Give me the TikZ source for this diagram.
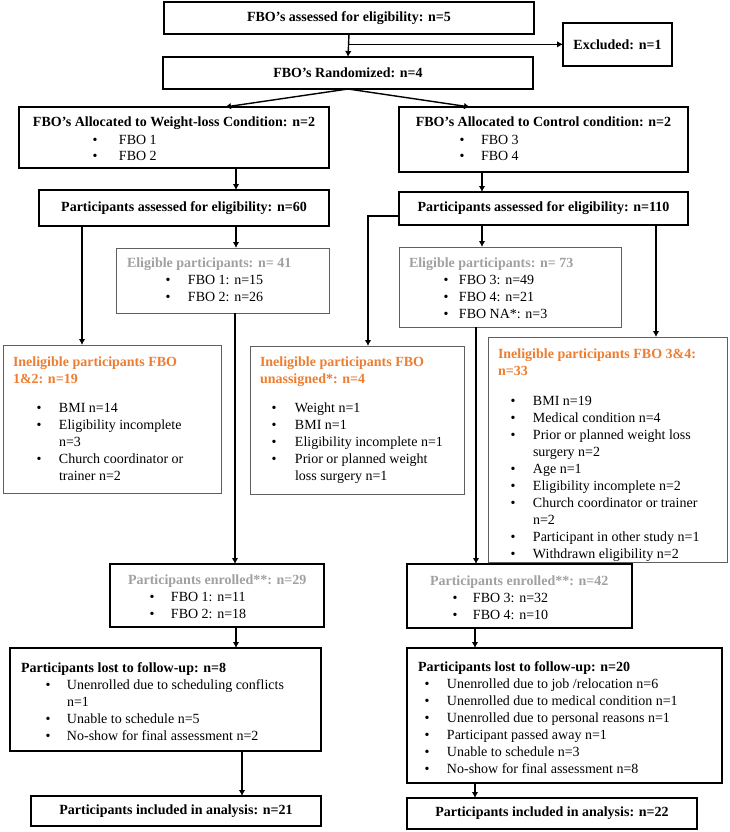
\documentclass[tikz,border=0pt]{standalone}
\usepackage{fontspec}
\setmainfont{Liberation Serif}
\usetikzlibrary{arrows.meta,calc}
\definecolor{orng}{RGB}{237,125,49}
\definecolor{gtxt}{RGB}{160,160,160}
\definecolor{gbox}{RGB}{95,95,95}
\newcommand\bitm[3]{\hspace*{#1pt}\makebox[0pt][c]{\textbullet}\hspace*{\dimexpr #2pt - #1pt\relax}#3}
\newcommand\cont[2]{\hspace*{#1pt}#2}
\newcommand\ptext[1]{\parbox[t]{330pt}{\raggedright\leavevmode #1}}
\tikzset{
  bx/.style={draw=black, line width=1.2pt, inner sep=0pt, outer sep=0pt, anchor=north west,
    font=\fontsize{14}{17}\selectfont\bfseries, align=center},
  gbx/.style={bx, draw=gbox, line width=0.9pt},
  txt/.style={inner sep=0pt, outer sep=0pt, font=\fontsize{14}{17}\selectfont},
  ttl/.style={txt, font=\fontsize{14}{17}\selectfont\bfseries, anchor=base},
  lst/.style={txt, anchor=base west},
  arr/.style={line width=1.4pt, -{Latex[length=6pt,width=6.5pt]}}
}
\begin{document}
\begin{tikzpicture}[x=1pt,y=-1pt]
\useasboundingbox (0,0) rectangle (729,832);
% ---- boxes
\node[bx, minimum width=370pt, minimum height=32pt] (b1) at (164,2) {FBO’s assessed for eligibility: n=5};
\node[bx, minimum width=109pt, minimum height=43pt] (excl) at (563,23) {Excluded: n=1};
\node[bx, minimum width=370pt, minimum height=32pt] (rand) at (163,57) {FBO’s Randomized: n=4};
\node[bx, minimum width=310pt, minimum height=61pt] (wl) at (19,107) {};
\node[bx, minimum width=289pt, minimum height=65pt] (ctl) at (399,107) {};
\node[bx, minimum width=290pt, minimum height=36pt] (n60) at (39,190) {Participants assessed for eligibility: n=60};
\node[gbx, minimum width=213pt, minimum height=65pt] (el41) at (116,248) {};
\node[gbx, minimum width=218pt, minimum height=148pt] (in12) at (3,345) {};
\node[bx, minimum width=214pt, minimum height=63pt] (enr29) at (110,564) {};
\node[bx, minimum width=311pt, minimum height=103pt] (lost8) at (10,648) {};
\node[bx, minimum width=290pt, minimum height=30pt] (inc21) at (31,796) {Participants included in analysis: n=21};
\node[bx, minimum width=289pt, minimum height=33pt] (n110) at (399,192) {Participants assessed for eligibility: n=110};
\node[gbx, minimum width=222pt, minimum height=80pt] (el73) at (399,247) {};
\node[gbx, minimum width=214pt, minimum height=148pt] (inU) at (250,346) {};
\node[gbx, minimum width=239pt, minimum height=225pt] (in34) at (488,337) {};
\node[bx, minimum width=225pt, minimum height=64pt] (enr42) at (407,564) {};
\node[bx, minimum width=315pt, minimum height=135pt] (lost20) at (407,648) {};
\node[bx, minimum width=290pt, minimum height=31pt] (inc22) at (407,798) {Participants included in analysis: n=22};
% ---- texts
\node[ttl] (wlt) at (174,127) {FBO’s Allocated to Weight-loss Condition: n=2};
\node[lst] (wll) at (88,144) {\ptext{\bitm{7}{31}{FBO 1}\\ \bitm{7}{31}{FBO 2}}};
\node[ttl] (ctlt) at (543.5,127) {FBO’s Allocated to Control condition: n=2};
\node[lst] (ctll) at (455,144) {\ptext{\bitm{7}{26}{FBO 3}\\ \bitm{7}{26}{FBO 4}}};
\node[lst] (el41t) at (127,267) {\ptext{{\color{gtxt}\bfseries Eligible participants: n= 41}\\
  \bitm{41}{61}{FBO 1: n=15}\\ \bitm{41}{61}{FBO 2: n=26}}};
\node[lst] (el73t) at (409,267) {\ptext{{\color{gtxt}\bfseries Eligible participants: n= 73}\\
  \bitm{37}{50}{FBO 3: n=49}\\ \bitm{37}{50}{FBO 4: n=21}\\ \bitm{37}{50}{FBO NA*: n=3}}};
\node[lst] (in12t) at (13,366) {\ptext{{\color{orng}\bfseries Ineligible participants FBO}\\
  {\color{orng}\bfseries 1\&2: n=19}\\[12pt]
  \bitm{26}{46}{BMI n=14}\\ \bitm{26}{46}{Eligibility incomplete}\\ \cont{46}{n=3}\\
  \bitm{26}{46}{Church coordinator or}\\ \cont{46}{trainer n=2}}};
\node[lst] (inUt) at (260,366) {\ptext{{\color{orng}\bfseries Ineligible participants FBO}\\
  {\color{orng}\bfseries unassigned*: n=4}\\[12pt]
  \bitm{14}{35}{Weight n=1}\\ \bitm{14}{35}{BMI n=1}\\ \bitm{14}{35}{Eligibility incomplete n=1}\\
  \bitm{14}{35}{Prior or planned weight}\\ \cont{35}{loss surgery n=1}}};
\node[lst] (in34t) at (498,358) {\ptext{{\color{orng}\bfseries Ineligible participants FBO 3\&4:}\\
  {\color{orng}\bfseries n=33}\\[13pt]
  \bitm{15}{35}{BMI n=19}\\ \bitm{15}{35}{Medical condition n=4}\\
  \bitm{15}{35}{Prior or planned weight loss}\\ \cont{35}{surgery n=2}\\
  \bitm{15}{35}{Age n=1}\\ \bitm{15}{35}{Eligibility incomplete n=2}\\
  \bitm{15}{35}{Church coordinator or trainer}\\ \cont{35}{n=2}\\
  \bitm{15}{35}{Participant in other study n=1}\\ \bitm{15}{35}{Withdrawn eligibility n=2}}};
\node[lst] (enr29t) at (128,584) {\ptext{{\color{gtxt}\bfseries Participants enrolled**: n=29}\\
  \bitm{24}{43}{FBO 1: n=11}\\ \bitm{24}{43}{FBO 2: n=18}}};
\node[lst] (enr42t) at (430,585) {\ptext{{\color{gtxt}\bfseries Participants enrolled**: n=42}\\
  \bitm{25}{43}{FBO 3: n=32}\\ \bitm{25}{43}{FBO 4: n=10}}};
\node[lst] (lost8t) at (21,672) {\ptext{{\bfseries Participants lost to follow-up: n=8}\\
  \bitm{27}{46}{Unenrolled due to scheduling conflicts}\\ \cont{46}{n=1}\\
  \bitm{27}{46}{Unable to schedule n=5}\\ \bitm{27}{46}{No-show for final assessment n=2}}};
\node[lst] (lost20t) at (418,671) {\ptext{{\bfseries Participants lost to follow-up: n=20}\\
  \bitm{9}{29}{Unenrolled due to job /relocation n=6}\\
  \bitm{9}{29}{Unenrolled due to medical condition n=1}\\
  \bitm{9}{29}{Unenrolled due to personal reasons n=1}\\
  \bitm{9}{29}{Participant passed away n=1}\\
  \bitm{9}{29}{Unable to schedule n=3}\\
  \bitm{9}{29}{No-show for final assessment n=8}}};
% ---- connectors
\coordinate (m1) at ($(b1.south)!0.45!(rand.north)$);
\draw[arr] (b1.south) -- (rand.north);
\draw[arr] (m1) -- (m1 -| excl.west);
\draw[arr] (rand.south) -- ([xshift=206pt]wl.north west);
\draw[arr] (rand.south) -- ([xshift=71pt]ctl.north west);
\coordinate (a1) at ([xshift=217pt]wl.south west);
\draw[arr] (a1) -- (a1 |- n60.north);
\coordinate (a2) at ([xshift=197pt]n60.south west);
\draw[arr] (a2) -- (a2 |- el41.north);
\coordinate (a3) at ([xshift=43pt]n60.south west);
\draw[arr] (a3) -- (a3 |- in12.north);
\coordinate (a4) at ([xshift=119pt]el41.south west);
\draw[arr] (a4) -- (a4 |- enr29.north);
\coordinate (a5) at ([xshift=126pt]enr29.south west);
\draw[arr] (a5) -- (a5 |- lost8.north);
\coordinate (a6) at ([xshift=232pt]lost8.south west);
\draw[arr] (a6) -- (a6 |- inc21.north);
\coordinate (c1) at ([xshift=83pt]ctl.south west);
\draw[arr] (c1) -- (c1 |- n110.north);
\coordinate (c2) at ([xshift=83pt]n110.south west);
\draw[arr] (c2) -- (c2 |- el73.north);
\coordinate (c3) at ([xshift=257pt]n110.south west);
\draw[arr] (c3) -- (c3 |- in34.north);
\coordinate (c4) at ([yshift=-7.5pt]n110.west);
\coordinate (c5) at ([xshift=118pt]inU.north west);
\draw[arr] (c4) -| (c5);
\coordinate (c6) at ([xshift=77pt]el73.south west);
\draw[arr] (c6) -- (c6 |- enr42.north);
\coordinate (c7) at ([xshift=68pt]enr42.south west);
\draw[arr] (c7) -- (c7 |- lost20.north);
\coordinate (c8) at ([xshift=68pt]lost20.south west);
\draw[arr] (c8) -- (c8 |- inc22.north);
\end{tikzpicture}
\end{document}
